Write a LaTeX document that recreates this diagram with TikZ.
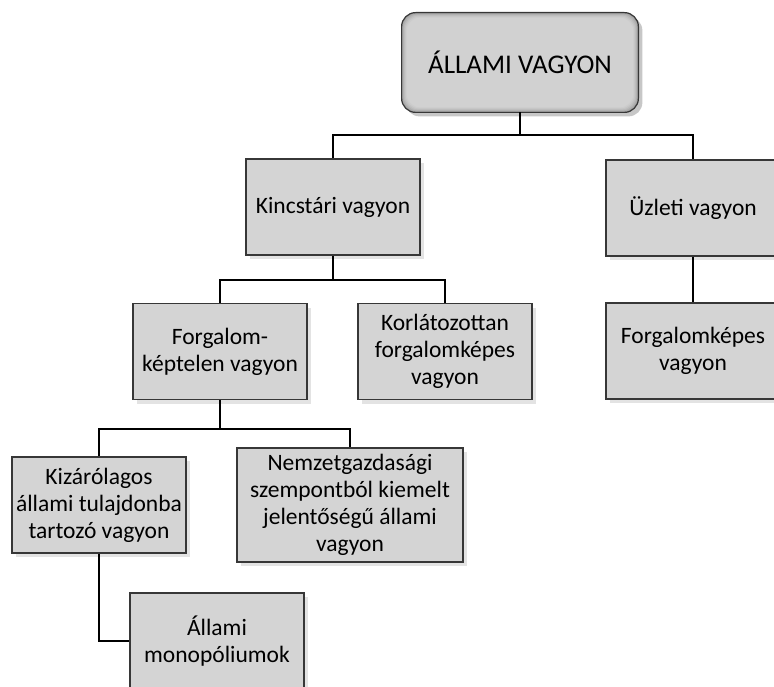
\documentclass[tikz,border=0pt]{standalone}
\usepackage{fontspec}
\setmainfont{Carlito}
\usetikzlibrary{positioning,shadows,backgrounds}
\definecolor{boxgray}{RGB}{212,212,212}
\definecolor{edgegray}{RGB}{55,55,55}

\begin{document}
\begin{tikzpicture}[x=1pt,y=-1pt,line width=2.8pt,
                    font=\fontsize{23.5}{27}\selectfont]
        \tikzstyle{box}=[rectangle,draw=edgegray,line width=1.2pt,fill=boxgray,
                         minimum width=174pt,minimum height=96pt,inner sep=0pt,align=center,
                         drop shadow={opacity=0.22,shadow xshift=4pt,shadow yshift=-4pt}]
        \useasboundingbox (0,0) rectangle (774,687);
        \clip (0,0) rectangle (774,687);

        \node[minimum width=234pt,minimum height=97pt,inner sep=0pt,
              font=\fontsize{27}{30}\selectfont] (root) at (520,62.5) {ÁLLAMI VAGYON};
        \node[box]         (kincs) at (333,207)       {Kincstári vagyon};
        \node[box]         (uzleti) at (693,208)      {Üzleti vagyon};
        \node[box]         (forgkept) at (220,351.5)  {Forgalom-\\képtelen vagyon};
        \node[box]         (korlat) at (445,351.5)    {Korlátozottan\\forgalomképes\\vagyon};
        \node[box]         (forgkep) at (693,351)     {Forgalomképes\\vagyon};
        \node[box]         (kizar) at (99,505)        {Kizárólagos\\állami tulajdonba\\tartozó vagyon};
        \node[box,minimum width=226pt,minimum height=114pt] (nemzet) at (350,505)
                                                      {Nemzetgazdasági\\szempontból kiemelt\\jelentőségű állami\\vagyon};
        \node[box]         (monop) at (217,641)       {Állami\\monopóliumok};

        % rounded top box with darker rim
        \begin{scope}[on background layer]
            \fill[black,opacity=0.22,rounded corners=14pt] ([shift={(4,4)}]root.north west) rectangle ([shift={(4,4)}]root.south east);
            \foreach \i/\c in {0/38,1/32,2/27,3/23,4/20,5/18}
                \fill[black!\c,rounded corners=14pt] ([shift={(\i,\i)}]root.north west) rectangle ([shift={(-\i,-\i)}]root.south east);
            \draw[edgegray,line width=1.2pt,rounded corners=14pt] (root.north west) rectangle (root.south east);
        \end{scope}

        \coordinate (j1) at (520,135);
        \coordinate (j2) at (333,280);
        \coordinate (j3) at (220,429);

        \draw (root.south) -- (j1) -| (kincs.north);
        \draw (j1) -| (uzleti.north);
        \draw (kincs.south) -- (j2) -| (forgkept.north);
        \draw (j2) -| (korlat.north);
        \draw (uzleti.south) -- (forgkep.north);
        \draw (forgkept.south) -- (j3) -| (kizar.north);
        \draw (j3) -| (nemzet.north);
        \draw (kizar.south) |- (monop.west);
    \end{tikzpicture}
\end{document}
